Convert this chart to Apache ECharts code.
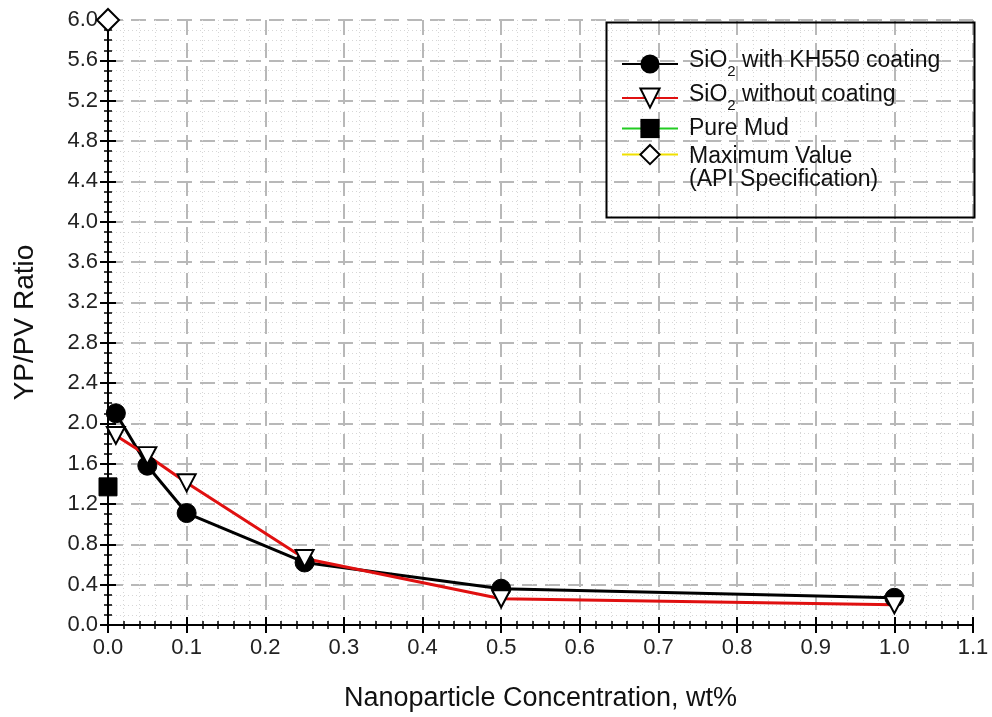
<!DOCTYPE html>
<html>
<head>
<meta charset="utf-8">
<script src="https://cdn.jsdelivr.net/npm/echarts@6/dist/echarts.min.js"></script>
<style>
  html, body { margin: 0; padding: 0; background: #fff; }
  #chart { width: 992px; height: 717px; }
</style>
</head>
<body>
<div id="chart"></div>
<script>
// concentrations, wt%
var concKH = [0.01, 0.05, 0.1, 0.25, 0.5, 1.0];
var ratioKH = [2.1, 1.58, 1.11, 0.62, 0.36, 0.27];
var concRaw = [0.01, 0.05, 0.1, 0.25, 0.5, 1.0];
var ratioRaw = [1.88, 1.68, 1.41, 0.66, 0.26, 0.2];
var mudPoint = [0, 1.37];
var maxPoint = [0, 6.0];
var seriesNames = ['SiO2 with KH550 coating', 'SiO2 without coating', 'Pure Mud', 'Maximum Value (API Specification)'];

function pairs(xs, ys) {
  return xs.map(function (x, i) { return [x, ys[i]]; });
}

var FONT = 'Liberation Sans, Arial, sans-serif';
var triDown = 'path://M0,0 L20,0 L10,18 Z';

var chart = echarts.init(document.getElementById('chart'));

var axLine = { show: true, lineStyle: { color: '#000', width: 2 } };
var axTick = { show: true, inside: true, length: 8, lineStyle: { color: '#000', width: 2 } };
function minor(n) {
  return { show: true, splitNumber: n, length: 4, lineStyle: { color: '#000', width: 1.5 } };
}
var majorGrid = { show: true, lineStyle: { color: '#b8b8b8', width: 2, type: [15, 8] } };
var minorGrid = { show: true, lineStyle: { color: '#d6d6d6', width: 1, type: [1, 3] } };

chart.setOption({
  backgroundColor: '#fff',
  animation: false,
  grid: { left: 108, right: 19, top: 20, bottom: 92 },
  xAxis: [
    {
      type: 'value', min: 0, max: 1.1, interval: 0.1, position: 'bottom',
      name: 'Nanoparticle Concentration, wt%', nameLocation: 'middle', nameGap: 60,
      nameTextStyle: { fontFamily: FONT, fontSize: 27, color: '#111' },
      axisLine: axLine, axisTick: axTick, minorTick: minor(5),
      axisLabel: { fontFamily: FONT, fontSize: 22, color: '#222', margin: 12,
        formatter: function (v) { return v.toFixed(1); } },
      splitLine: majorGrid, minorSplitLine: minorGrid
    },
    {
      type: 'value', min: 0, max: 1.1, interval: 0.1, position: 'top',
      axisLine: axLine, axisTick: axTick, minorTick: minor(5),
      axisLabel: { show: false }, splitLine: { show: false }
    }
  ],
  yAxis: [
    {
      type: 'value', min: 0, max: 6, interval: 0.4, position: 'left',
      name: 'YP/PV Ratio', nameLocation: 'middle', nameGap: 69,
      nameTextStyle: { fontFamily: FONT, fontSize: 28, color: '#111' },
      axisLine: axLine, axisTick: axTick, minorTick: minor(4),
      axisLabel: { fontFamily: FONT, fontSize: 22, color: '#222', margin: 10,
        formatter: function (v) { return v.toFixed(1); } },
      splitLine: majorGrid, minorSplitLine: minorGrid
    },
    {
      type: 'value', min: 0, max: 6, interval: 0.4, position: 'right',
      axisLine: axLine, axisTick: axTick, minorTick: minor(4),
      axisLabel: { show: false }, splitLine: { show: false }
    }
  ],
  legend: {
    orient: 'vertical', left: 616, top: 44,
    itemWidth: 56, itemHeight: 24, itemGap: 4,
    data: [
      seriesNames[0], seriesNames[1], seriesNames[2],
      { name: seriesNames[3], textStyle: { padding: [28, 0, 0, 6] } }
    ],
    textStyle: {
      fontFamily: FONT, fontSize: 23, color: '#111', padding: [0, 0, 0, 6],
      rich: {
        t: { fontFamily: FONT, fontSize: 23, color: '#111', padding: [0, 0, 7, 0], verticalAlign: 'bottom' },
        s: { fontFamily: FONT, fontSize: 15, color: '#111', verticalAlign: 'bottom' }
      }
    },
    formatter: function (name) {
      if (name === seriesNames[0]) return '{t|SiO}{s|2}{t| with KH550 coating}';
      if (name === seriesNames[1]) return '{t|SiO}{s|2}{t| without coating}';
      if (name === seriesNames[3]) return 'Maximum Value\n(API Specification)';
      return name;
    }
  },
  graphic: [{
    type: 'rect', left: 604, top: 20, z: 100,
    shape: { width: 368, height: 195 },
    style: { fill: 'none', stroke: '#000', lineWidth: 2 }
  }],
  series: [
    {
      name: seriesNames[0], type: 'line', clip: false,
      data: pairs(concKH, ratioKH),
      symbol: 'circle', symbolSize: 19,
      lineStyle: { color: '#000', width: 3 },
      itemStyle: { color: '#000', borderColor: '#000' }
    },
    {
      name: seriesNames[1], type: 'line', clip: false,
      data: pairs(concRaw, ratioRaw),
      symbol: triDown, symbolSize: [18, 17],
      lineStyle: { color: '#e01010', width: 3 },
      itemStyle: { color: '#fff', borderColor: '#000', borderWidth: 2 }
    },
    {
      name: seriesNames[2], type: 'line', clip: false,
      data: [mudPoint],
      symbol: 'rect', symbolSize: 18,
      lineStyle: { color: '#22cc22', width: 3 },
      itemStyle: { color: '#000', borderColor: '#000' }
    },
    {
      name: seriesNames[3], type: 'line', clip: false,
      data: [maxPoint],
      symbol: 'diamond', symbolSize: 22,
      lineStyle: { color: '#f0e000', width: 3 },
      itemStyle: { color: '#fff', borderColor: '#000', borderWidth: 2 }
    }
  ]
});
</script>
</body>
</html>
